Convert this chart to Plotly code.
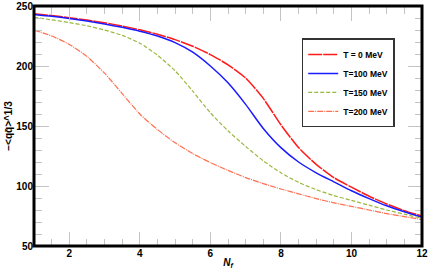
import plotly.graph_objects as go

nf = [1, 1.5, 2, 2.5, 3, 3.5, 4, 4.5, 5, 5.5, 6, 6.5, 7, 7.5, 8, 8.5, 9, 9.5, 10, 10.5, 11, 11.5, 12]
t0 = [243.5, 242, 240.3, 238.3, 236, 233.3, 230.2, 226.5, 222, 216.5, 209.5, 201, 190, 173, 151, 132, 118, 107, 99, 91.5, 85, 79.5, 75]
t100 = [243, 241.5, 239.6, 237.5, 235, 232.2, 229, 225, 219.5, 211.5, 200, 186, 168, 148, 132, 120, 111, 103.5, 96, 89.5, 83.5, 78.5, 74]
t150 = [240.5, 238.5, 236.2, 233.5, 230, 225.5, 219, 209, 196, 179, 161, 146, 133, 121, 111, 103, 97, 92, 88, 84, 80, 76.5, 73]
t200 = [230, 225, 218, 208, 194, 177, 160, 147, 136, 127, 119.5, 113, 107, 102, 97.5, 93.5, 89.5, 86, 83, 80, 77, 74.5, 72]
names = ["T = 0 MeV", "T=100 MeV", "T=150 MeV", "T=200 MeV"]
series = [t0, t100, t150, t200]
colors = ["#ff1a1a", "#1a1aff", "#9ab840", "#ff7050"]
dashes = ["14px,1px", "solid", "4px,2px", "6px,1px,1px,1px"]
widths = [1.5, 1.5, 1.2, 1.2]

x_range = [1, 12]
y_range = [50, 250]

fig = go.Figure()
for n, s, c, d, w in zip(names, series, colors, dashes, widths):
    fig.add_trace(go.Scatter(x=nf, y=s, mode="lines", name=n,
                             line=dict(color=c, dash=d, width=w, shape="spline", smoothing=0.6)))
# empty helper traces so the tick-only overlay axes are drawn
for xa, ya in (("x2", "y2"), ("x3", "y3")):
    fig.add_trace(go.Scatter(x=[], y=[], xaxis=xa, yaxis=ya, showlegend=False, hoverinfo="skip"))

fam = "Liberation Sans, Arial"
tickc = "#c4c4c4"
fig.update_layout(
    width=429, height=276,
    margin=dict(l=34, r=7, t=6, b=30, autoexpand=False),
    paper_bgcolor="white", plot_bgcolor="white",
    font=dict(family=fam, size=10, color="black"),
    legend=dict(x=0.69, y=0.865, xanchor="left", yanchor="top",
                bgcolor="white", bordercolor="#333333", borderwidth=1.5,
                font=dict(family=fam, size=8.5, color="black", weight="bold"),
                itemwidth=30, tracegroupgap=0),
    shapes=[dict(type="rect", xref="paper", yref="paper", x0=0, x1=1, y0=0, y1=1,
                 line=dict(color="black", width=3), layer="above")],
)
fig.update_layout(
    xaxis=dict(range=x_range, dtick=2, tick0=0, showgrid=False, zeroline=False, automargin=False,
               showline=False, ticks="",
               tickfont=dict(family=fam, size=10, color="black", weight="bold"),
               title=dict(text="<i>N<sub>f</sub></i>", standoff=0,
                          font=dict(family=fam, size=10, weight="bold"))),
    yaxis=dict(range=y_range, dtick=50, showgrid=False, zeroline=False, automargin=False,
               showline=False, ticks="",
               tickfont=dict(family=fam, size=10, color="black", weight="bold"),
               title=dict(text="\u2212<qq\u0304>^1/3", standoff=1,
                          font=dict(family=fam, size=10, weight="bold"))),
)
xt = dict(range=x_range, dtick=2, tick0=0, overlaying="x", anchor="free",
          showgrid=False, zeroline=False, showline=False, showticklabels=False, automargin=False,
          ticks="outside", ticklen=14, tickcolor=tickc, tickwidth=1,
          minor=dict(dtick=0.5, ticks="outside", ticklen=7, tickcolor=tickc, tickwidth=1))
yt = dict(range=y_range, dtick=50, overlaying="y", anchor="free",
          showgrid=False, zeroline=False, showline=False, showticklabels=False, automargin=False,
          ticks="outside", ticklen=14, tickcolor=tickc, tickwidth=1,
          minor=dict(dtick=10, ticks="outside", ticklen=7, tickcolor=tickc, tickwidth=1))
fig.update_layout(
    xaxis2=dict(xt, side="top", position=0),
    yaxis2=dict(yt, side="right", position=0),
    xaxis3=dict(xt, side="bottom", position=1),
    yaxis3=dict(yt, side="left", position=1),
)
fig.write_html("out.html", config={"displayModeBar": False},
               post_script="document.body.style.margin='0';document.body.style.padding='0';")
